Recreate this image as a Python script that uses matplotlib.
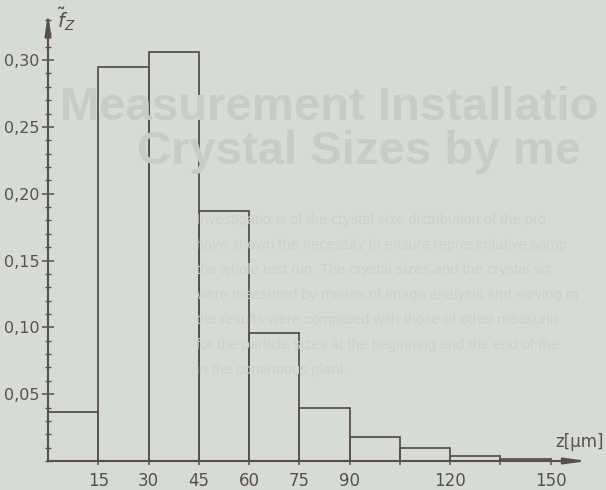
import matplotlib
matplotlib.use("Agg")
import matplotlib.pyplot as plt
from matplotlib.ticker import FixedLocator, MultipleLocator, FuncFormatter

# Class limits of the crystal size z in micrometres and relative frequencies
bin_edges = [0, 15, 30, 45, 60, 75, 90, 105, 120, 135, 150]
frequencies = [0.037, 0.295, 0.306, 0.187, 0.096, 0.040, 0.018, 0.010, 0.0035, 0.0015]
x_tick_values = [15, 30, 45, 60, 75, 90, 105, 120, 135, 150]
x_tick_labels = ["15", "30", "45", "60", "75", "90", "", "120", "", "150"]
y_tick_values = [0.05, 0.10, 0.15, 0.20, 0.25, 0.30]

paper = "#d7dbd5"
ink = "#594f4e"
ghost = "#c8ccc6"
ghost_body = "#cdd1cb"
font = ["Liberation Sans Narrow", "DejaVu Sans"]

plt.rcParams["mathtext.fontset"] = "dejavusans"

fig = plt.figure(figsize=(6.06, 4.90), dpi=100, facecolor=paper)

# Show-through of the facing page
fig.text(60 / 606, 1 - 120 / 490, "Measurement Installatio", color=ghost,
         fontsize=34, fontweight="bold", family="Liberation Sans", va="baseline")
fig.text(137 / 606, 1 - 164 / 490, "Crystal Sizes by me", color=ghost,
         fontsize=34, fontweight="bold", family="Liberation Sans", va="baseline")
body = [
    "Investigations of the crystal size distribution of the pro",
    "have shown the necessity to ensure representative samp",
    "the whole test run. The crystal sizes and the crystal siz",
    "were measured by means of image analysis and sieving m",
    "the results were compared with those of other measurin",
    "for the particle sizes at the beginning and the end of the",
    "in the continuous plant.",
]
for i, line in enumerate(body):
    fig.text(196 / 606, 1 - (224 + i * 25) / 490, line, color=ghost_body,
             fontsize=10.5, family="Liberation Sans", va="baseline")

ax = fig.add_axes([48 / 606, 29 / 490, 539.5 / 606, 449 / 490])
ax.set_facecolor("none")
ax.set_xlim(0, 161)
ax.set_ylim(0, 0.336)

widths = [b - a for a, b in zip(bin_edges[:-1], bin_edges[1:])]
ax.bar(bin_edges[:-1], frequencies, width=widths, align="edge", fill=False,
       edgecolor=ink, linewidth=1.3)

for s in ("top", "right", "left", "bottom"):
    ax.spines[s].set_visible(False)

# Axes drawn as arrows
arrow = dict(arrowstyle="-|>,head_length=1.3,head_width=0.18", color=ink, lw=1.5,
             shrinkA=0, shrinkB=0)
ax.annotate("", xy=(1, 0), xytext=(0, 0), xycoords="axes fraction", arrowprops=arrow)
ax.annotate("", xy=(0, 1), xytext=(0, 0), xycoords="axes fraction", arrowprops=arrow)

ax.xaxis.set_major_locator(FixedLocator(x_tick_values))
ax.set_xticklabels(x_tick_labels)
ax.yaxis.set_major_locator(FixedLocator(y_tick_values))
ax.yaxis.set_minor_locator(MultipleLocator(0.01))
ax.yaxis.set_major_formatter(FuncFormatter(lambda v, p: f"{v:.2f}".replace(".", ",")))

ax.tick_params(axis="x", direction="out", length=3, width=1.1, color=ink,
               labelcolor=ink, labelsize=12, pad=5)
ax.tick_params(axis="y", which="major", direction="inout", length=8, width=1.1,
               color=ink, labelcolor=ink, labelsize=11.5, pad=2)
ax.tick_params(axis="y", which="minor", direction="inout", length=5, width=1.0,
               color=ink)
for lbl in ax.get_xticklabels() + ax.get_yticklabels():
    lbl.set_family(font)

fig.text(57 / 606, 1 - 6 / 490, r"$\tilde{f}_{Z}$", color=ink, fontsize=14,
         va="top", ha="left")
fig.text(604 / 606, 1 - 442 / 490, "z[µm]", color=ink, fontsize=12,
         family=font, ha="right", va="center")

fig.savefig("out.png", dpi=100, facecolor=paper)
